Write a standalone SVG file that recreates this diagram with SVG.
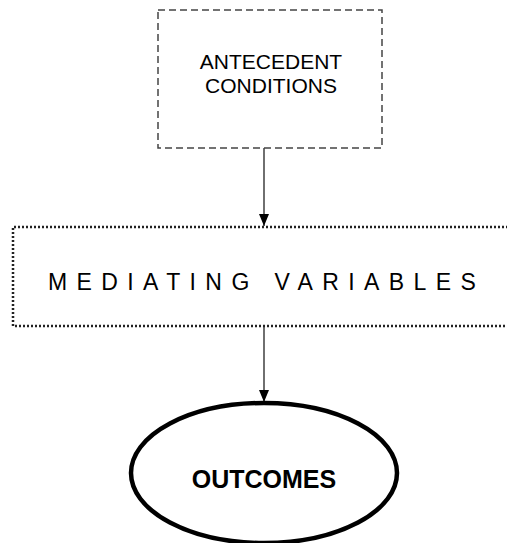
<svg xmlns="http://www.w3.org/2000/svg" width="507" height="543" viewBox="0 0 507 543">
  <style>
    text { font-family: "Liberation Sans", Arial, sans-serif; fill: #000; }
    .dashed { fill: none; stroke: #444; stroke-width: 1.5; stroke-dasharray: 7 4; }
    .dotted { fill: none; stroke: #222; stroke-width: 2.5; stroke-dasharray: 2 2; }
    .oval { fill: #fff; stroke: #000; stroke-width: 4.5; }
    .edge { stroke: #222; stroke-width: 1.3; fill: none; marker-end: url(#arrow); }
  </style>
  <defs>
    <marker id="arrow" viewBox="0 0 12 10" refX="12" refY="5" markerWidth="12" markerHeight="10" markerUnits="userSpaceOnUse" orient="auto">
      <path d="M0,0 L12,5 L0,10 Z" fill="#000"/>
    </marker>
  </defs>
  <rect width="507" height="543" fill="#fff"/>

  <g id="connectors">
    <line class="edge" x1="264" y1="148" x2="264" y2="226"/>
    <line class="edge" x1="264" y1="327" x2="264" y2="402"/>
  </g>

  <g id="antecedent-conditions">
    <rect class="dashed" x="158" y="10" width="224" height="138"/>
    <text x="271" y="69" font-size="21" text-anchor="middle">ANTECEDENT</text>
    <text x="271" y="93" font-size="21" text-anchor="middle">CONDITIONS</text>
  </g>

  <g id="mediating-variables">
    <path class="dotted" d="M508,227 H13 V326 H508"/>
    <text x="48" y="290" font-size="23" letter-spacing="9.4">MEDIATING VARIABLES</text>
  </g>

  <g id="outcomes">
    <ellipse class="oval" cx="264" cy="473" rx="133" ry="70"/>
    <text x="264" y="488" font-size="25" font-weight="bold" text-anchor="middle">OUTCOMES</text>
  </g>
</svg>
